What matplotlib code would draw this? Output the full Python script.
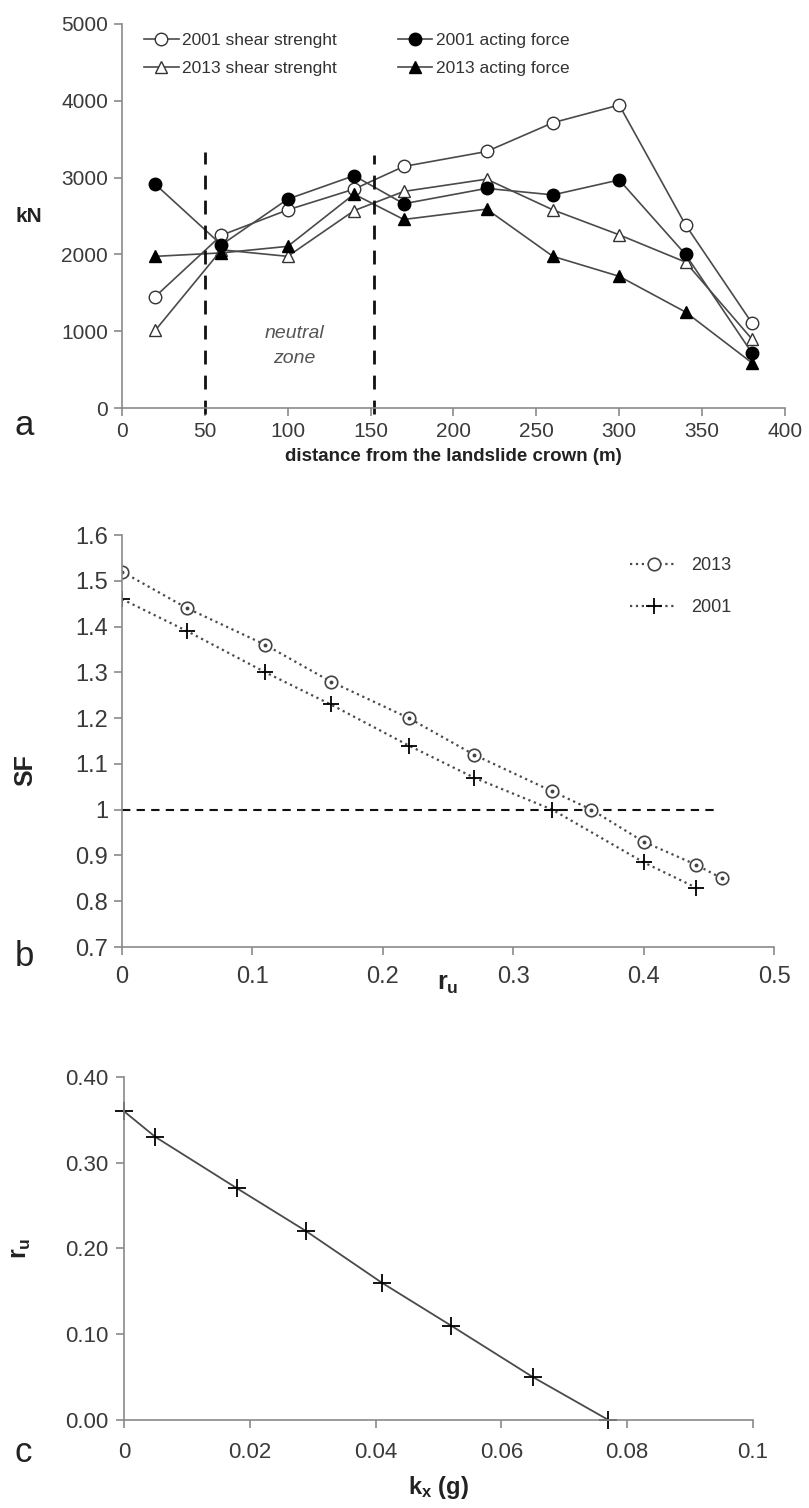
import numpy as np
import matplotlib
matplotlib.use('Agg')
import matplotlib.pyplot as plt

plt.rcParams['font.family'] = ['Liberation Sans', 'DejaVu Sans']
plt.rcParams['mathtext.fontset'] = 'custom'
plt.rcParams['mathtext.rm'] = 'Liberation Sans'
plt.rcParams['mathtext.bf'] = 'Liberation Sans:bold'

# (a) forces along the slide profile
dist = np.array([20, 60, 100, 140, 170, 220, 260, 300, 340, 380])
shear_2001 = np.array([1450, 2250, 2580, 2850, 3145, 3340, 3715, 3945, 2385, 1110])
acting_2001 = np.array([2915, 2125, 2720, 3025, 2660, 2860, 2775, 2970, 2000, 720])
shear_2013 = np.array([1010, 2060, 1975, 2570, 2820, 2980, 2580, 2255, 1900, 900])
acting_2013 = np.array([1975, 2020, 2105, 2785, 2455, 2590, 1975, 1715, 1250, 590])
neutral_bounds = [50, 152]

# (b) safety factor vs pore pressure ratio
ru_2013 = np.array([0.0, 0.05, 0.11, 0.16, 0.22, 0.27, 0.33, 0.36, 0.40, 0.44, 0.46])
sf_2013 = np.array([1.52, 1.44, 1.36, 1.28, 1.20, 1.12, 1.04, 1.00, 0.93, 0.88, 0.85])
ru_2001 = np.array([0.0, 0.05, 0.11, 0.16, 0.22, 0.27, 0.33, 0.40, 0.44])
sf_2001 = np.array([1.46, 1.39, 1.30, 1.23, 1.14, 1.07, 1.00, 0.885, 0.83])

# (c) critical ru vs horizontal seismic coefficient
kx = np.array([0.0, 0.005, 0.018, 0.029, 0.041, 0.052, 0.065, 0.077])
ru_crit = np.array([0.36, 0.33, 0.27, 0.22, 0.16, 0.11, 0.05, 0.0])

line_c = '#4a4a4a'
axis_c = '#8a8a8a'
tick_c = '#3a3a3a'
lab_c = '#222222'

fig = plt.figure(figsize=(8.09, 15.08), dpi=100)


def style(ax, size, pad=4):
    for s in ['top', 'right']:
        ax.spines[s].set_visible(False)
    for s in ['left', 'bottom']:
        ax.spines[s].set_color(axis_c)
        ax.spines[s].set_linewidth(1.2)
    ax.tick_params(direction='out', length=6, width=1.2, color=axis_c,
                   labelcolor=tick_c, labelsize=size, pad=pad)


# ---- a ----
ax1 = fig.add_axes([0.1508, 0.7294, 0.8195, 0.2547])
style(ax1, 15)
ax1.plot(dist, shear_2001, '-o', color=line_c, lw=1.2, ms=9, mfc='white', mec='#333333',
         mew=1.0, label='2001 shear strenght')
ax1.plot(dist, shear_2013, '-^', color=line_c, lw=1.2, ms=9, mfc='white', mec='#333333',
         mew=1.0, label='2013 shear strenght')
ax1.plot(dist, acting_2001, '-o', color=line_c, lw=1.2, ms=9, mfc='black', mec='black',
         label='2001 acting force')
ax1.plot(dist, acting_2013, '-^', color=line_c, lw=1.2, ms=9, mfc='black', mec='black',
         label='2013 acting force')
for xb, top in zip(neutral_bounds, [3330, 3290]):
    ax1.plot([xb, xb], [-80, top], color='#111111', lw=2.0, dashes=(5, 4), clip_on=False)
ax1.text(104, 977, 'neutral', style='italic', color='#555555', fontsize=14,
         ha='center', va='center')
ax1.text(104, 651, 'zone', style='italic', color='#555555', fontsize=14,
         ha='center', va='center')
ax1.set_xlim(0, 400)
ax1.set_ylim(0, 5000)
ax1.set_xticks(np.arange(0, 401, 50))
ax1.set_yticks(np.arange(0, 5001, 1000))
ax1.set_xlabel('distance from the landslide crown (m)', fontsize=13.5, fontweight='bold',
               color=lab_c, labelpad=5)
ax1.set_ylabel('kN', fontsize=15, fontweight='bold', rotation=0, color=lab_c,
               va='center', ha='center')
ax1.yaxis.set_label_coords(-0.14, 0.5)
ax1.legend(ncol=2, loc='upper left', bbox_to_anchor=(0.02, 1.0), frameon=False,
           fontsize=12.5, handlelength=2.0, handletextpad=0.2, columnspacing=3.5,
           labelspacing=0.75, labelcolor='#333333', borderaxespad=0.1)
fig.text(0.018, 0.7115, 'a', fontsize=25, color=lab_c)

# ---- b ----
ax2 = fig.add_axes([0.1508, 0.3720, 0.806, 0.2732])
style(ax2, 17, pad=8)
ax2.plot([0, 0.456], [1, 1], color='#111111', lw=1.5, dashes=(4, 3))
ax2.plot(ru_2013, sf_2013, ':o', color=line_c, lw=1.6, ms=9, mfc='white', mec='#444444',
         mew=1.2, label='2013')
# small centre dot inside the open circles
ax2.plot(ru_2013, sf_2013, 'o', ls='none', ms=1.8, color='#444444')
ax2.plot(ru_2001, sf_2001, ':+', color=line_c, lw=1.6, ms=12, mec='black', mew=1.3,
         label='2001')
ax2.set_xlim(0, 0.5)
ax2.set_ylim(0.7, 1.6)
ax2.set_xticks([0, 0.1, 0.2, 0.3, 0.4, 0.5])
ax2.set_xticklabels(['0', '0.1', '0.2', '0.3', '0.4', '0.5'])
ax2.set_yticks(np.round(np.arange(0.7, 1.61, 0.1), 1))
ax2.set_yticklabels(['0.7', '0.8', '0.9', '1', '1.1', '1.2', '1.3', '1.4', '1.5', '1.6'])
ax2.tick_params(axis='y', pad=4)
ax2.set_xlabel(r'$\mathbf{r_u}$', fontsize=18, color=lab_c, labelpad=-12)
ax2.set_ylabel('SF', fontsize=18, fontweight='bold', color=lab_c)
ax2.yaxis.set_label_coords(-0.13, 0.43)
ax2.legend(loc='upper right', bbox_to_anchor=(0.96, 0.985), frameon=False, fontsize=13,
           handlelength=2.6, labelspacing=1.35, labelcolor='#333333')
fig.text(0.018, 0.3594, 'b', fontsize=25, color=lab_c)

# ---- c ----
ax3 = fig.add_axes([0.1533, 0.0584, 0.7775, 0.2274])
style(ax3, 16, pad=10)
ax3.plot(kx, ru_crit, '-+', color=line_c, lw=1.3, ms=13, mec='black', mew=1.3, clip_on=False)
ax3.set_xlim(0, 0.1)
ax3.set_ylim(0, 0.4)
ax3.set_xticks([0, 0.02, 0.04, 0.06, 0.08, 0.1])
ax3.set_xticklabels(['0', '0.02', '0.04', '0.06', '0.08', '0.1'])
ax3.set_yticks([0, 0.1, 0.2, 0.3, 0.4])
ax3.set_yticklabels(['0.00', '0.10', '0.20', '0.30', '0.40'])
ax3.tick_params(axis='y', pad=5)
ax3.set_xlabel(r'$\mathbf{k_x}$ (g)', fontsize=17, fontweight='bold', color=lab_c,
               labelpad=8)
ax3.set_ylabel(r'$\mathbf{r_u}$', fontsize=18, color=lab_c)
ax3.yaxis.set_label_coords(-0.145, 0.5)
fig.text(0.018, 0.0305, 'c', fontsize=25, color=lab_c)

fig.savefig('out.png', dpi=100)
